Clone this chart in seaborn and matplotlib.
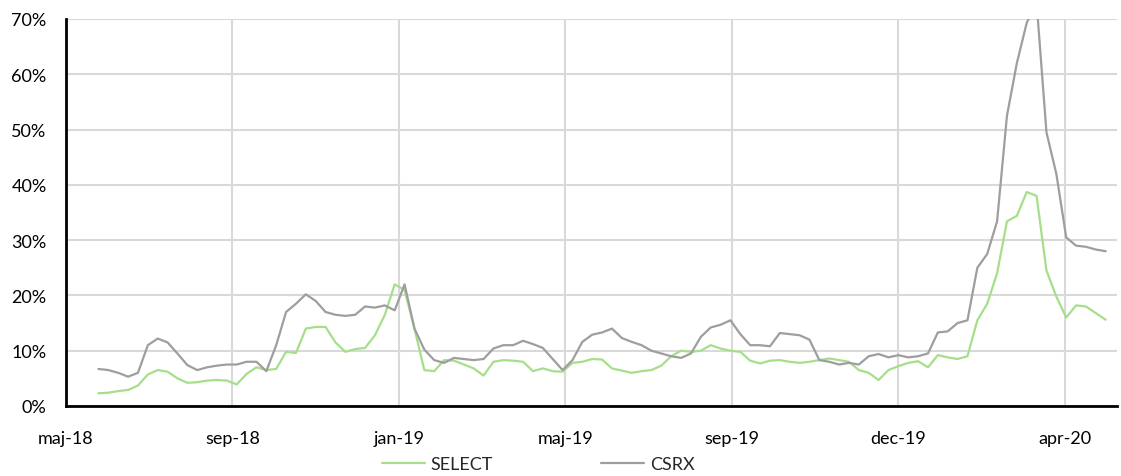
import pandas as pd
import matplotlib
matplotlib.use("Agg")
import matplotlib.pyplot as plt
import seaborn as sns

# =========================
# DATA (ugentlige værdier, i %)
# =========================
start_dato = "2018-06-12"

select = [2.3, 2.4, 2.7, 2.9, 3.7, 5.7, 6.5, 6.2, 5.0, 4.2,
          4.3, 4.6, 4.7, 4.6, 3.9, 5.8, 7.0, 6.5, 6.7, 9.8,
          9.6, 14.0, 14.3, 14.3, 11.5, 9.8, 10.3, 10.5, 12.8, 16.5,
          22.0, 21.0, 14.0, 6.5, 6.3, 8.3, 8.2, 7.5, 6.8, 5.5,
          8.0, 8.3, 8.2, 8.0, 6.3, 6.8, 6.3, 6.2, 7.8, 8.0,
          8.5, 8.4, 6.8, 6.4, 6.0, 6.3, 6.5, 7.3, 9.0, 10.0,
          9.8, 10.0, 11.0, 10.4, 10.0, 9.8, 8.2, 7.7, 8.2, 8.3,
          8.0, 7.8, 8.0, 8.3, 8.6, 8.3, 8.0, 6.5, 6.0, 4.7,
          6.5, 7.2, 7.8, 8.1, 7.0, 9.2, 8.8, 8.5, 9.0, 15.5,
          18.5, 24.0, 33.4, 34.4, 38.7, 38.0, 24.5, 19.8, 16.0, 18.2,
          18.0, 16.8, 15.6]

csrx = [6.7, 6.5, 6.0, 5.3, 6.0, 11.0, 12.2, 11.5, 9.5, 7.4,
        6.5, 7.0, 7.3, 7.5, 7.5, 8.0, 8.0, 6.3, 11.0, 17.0,
        18.5, 20.2, 19.0, 17.0, 16.5, 16.3, 16.5, 18.0, 17.8, 18.2,
        17.3, 22.0, 14.0, 10.2, 8.3, 7.8, 8.7, 8.5, 8.3, 8.5,
        10.4, 11.0, 11.0, 11.8, 11.2, 10.5, 8.5, 6.5, 8.3, 11.6,
        12.9, 13.3, 14.0, 12.3, 11.6, 11.0, 10.0, 9.5, 9.0, 8.7,
        9.5, 12.5, 14.2, 14.7, 15.5, 13.0, 11.0, 11.0, 10.8, 13.2,
        13.0, 12.8, 12.0, 8.3, 8.0, 7.5, 7.8, 7.5, 9.0, 9.4,
        8.8, 9.2, 8.8, 9.0, 9.5, 13.3, 13.5, 15.0, 15.5, 25.0,
        27.5, 33.4, 52.5, 62.0, 69.3, 73.0, 49.5, 42.0, 30.5, 29.0,
        28.8, 28.3, 28.0]

serier = ["SELECT", "CSRX"]
farver = {"SELECT": "#a6df8a", "CSRX": "#9e9e9e"}

# akse: start og afstand mellem hovedstreger (dage)
akse_start = pd.Timestamp("2018-05-20")
tick_afstand = 118
tick_labels = ["maj-18", "sep-18", "jan-19", "maj-19", "sep-19", "dec-19", "apr-20"]

# =========================
# DATAFRAME
# =========================
datoer = pd.date_range(start_dato, periods=len(select), freq="7D")
df = pd.DataFrame({"dato": datoer, "SELECT": select, "CSRX": csrx})
df = df.melt(id_vars="dato", var_name="serie", value_name="vaerdi")

# =========================
# PLOT
# =========================
sns.set_style("white")
plt.rcParams["font.family"] = ["Lato", "DejaVu Sans"]

fig = plt.figure(figsize=(11.21, 4.77), dpi=100)
ax = fig.add_axes([66 / 1121, 70 / 477, (1117 - 66) / 1121, (407 - 20) / 477])

sns.lineplot(data=df, x="dato", y="vaerdi", hue="serie", hue_order=serier,
             palette=farver, linewidth=1.6, ax=ax, legend=False)

ax.set_ylim(0, 70)
ax.set_yticks(range(0, 71, 10))
ax.set_yticklabels([f"{v}%" for v in range(0, 71, 10)])

tick_datoer = [akse_start + pd.Timedelta(days=tick_afstand * i) for i in range(len(tick_labels))]
ax.set_xticks(tick_datoer)
ax.set_xticklabels(tick_labels)
ax.set_xlim(akse_start, akse_start + pd.Timedelta(days=745))

ax.set_xlabel("")
ax.set_ylabel("")
ax.grid(True, color="#d9d9d9", linewidth=1.5)
ax.set_axisbelow(True)

for side in ["top", "right"]:
    ax.spines[side].set_visible(False)
for side in ["left", "bottom"]:
    ax.spines[side].set_color("black")
    ax.spines[side].set_linewidth(2)

ax.tick_params(axis="both", length=0, labelsize=13, colors="black")
ax.tick_params(axis="y", pad=14)
ax.tick_params(axis="x", pad=17)

fig.legend(ax.lines[:2], serier, loc="center", bbox_to_anchor=(538 / 1121, 1 - 465 / 477),
           ncol=2, frameon=False, fontsize=13, handlelength=2.4, handletextpad=0.3,
           columnspacing=6.0)

plt.savefig("out.png", dpi=100)
